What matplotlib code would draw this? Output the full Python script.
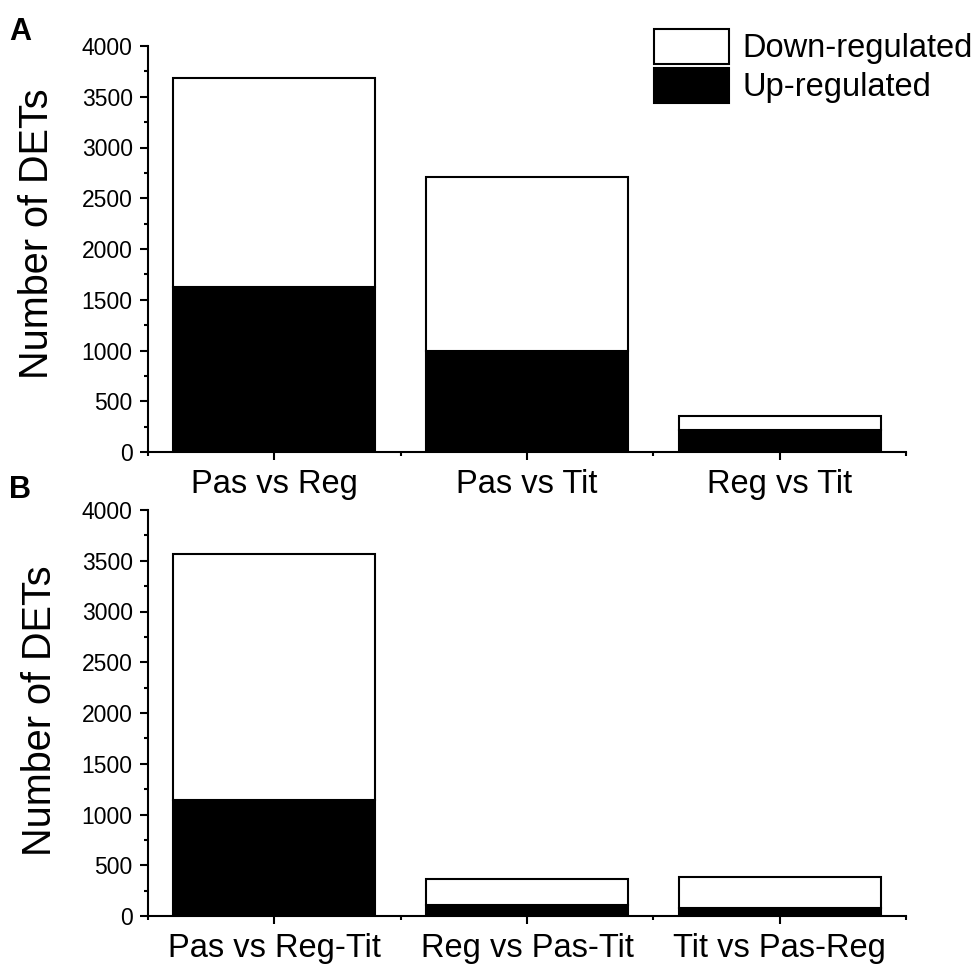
import matplotlib
matplotlib.use("Agg")
import matplotlib.pyplot as plt
from matplotlib.patches import Patch
from matplotlib.ticker import MultipleLocator, FixedLocator

plt.rcParams['font.family'] = ['Liberation Sans', 'DejaVu Sans']

# panel A
cats_a = ["Pas vs Reg", "Pas vs Tit", "Reg vs Tit"]
up_a = [1623, 995, 217]
down_a = [2062, 1711, 138]

# panel B
cats_b = ["Pas vs Reg-Tit", "Reg vs Pas-Tit", "Tit vs Pas-Reg"]
up_b = [1140, 105, 76]
down_b = [2430, 260, 308]

fig = plt.figure(figsize=(9.75, 9.67), dpi=100)
ax_a = fig.add_axes([148/975, 1-452/967, 758/975, 406/967])
ax_b = fig.add_axes([148/975, 1-916/967, 758/975, 406/967])


def draw_panel(ax, cats, up, down):
    x = list(range(len(cats)))
    ax.bar(x, up, width=0.8, color='black', edgecolor='black', linewidth=1.5)
    ax.bar(x, down, width=0.8, bottom=up, color='white', edgecolor='black', linewidth=1.5)
    ax.set_xlim(-0.5, len(cats) - 0.5)
    ax.set_ylim(0, 4000)
    ax.set_xticks(x)
    ax.set_xticklabels(cats, fontsize=23.5)
    ax.xaxis.set_minor_locator(FixedLocator([i + 0.5 for i in range(-1, len(cats))]))
    ax.yaxis.set_major_locator(MultipleLocator(500))
    ax.yaxis.set_minor_locator(MultipleLocator(250))
    ax.tick_params(axis='y', labelsize=16.5)
    ax.tick_params(which='major', direction='out', length=6, width=1.5, pad=5)
    ax.tick_params(which='minor', direction='out', length=3, width=1.5)
    ax.tick_params(axis='x', which='major', pad=6)
    for s in ['top', 'right']:
        ax.spines[s].set_visible(False)
    for s in ['left', 'bottom']:
        ax.spines[s].set_linewidth(1.5)


draw_panel(ax_a, cats_a, up_a, down_a)
draw_panel(ax_b, cats_b, up_b, down_b)

fig.text(37/975, 1-234/967, "Number of DETs", rotation=90, ha='center', va='center', fontsize=28.5)
fig.text(40/975, 1-711/967, "Number of DETs", rotation=90, ha='center', va='center', fontsize=28.5)

fig.text(9/975, 1-17/967, "A", fontsize=22, fontweight='bold', va='top')
fig.text(9/975, 1-475/967, "B", fontsize=22, fontweight='bold', va='top')

handles = [Patch(facecolor='white', edgecolor='black', linewidth=1.5, label='Down-regulated'),
           Patch(facecolor='black', edgecolor='black', linewidth=1.5, label='Up-regulated')]
fig.legend(handles=handles, loc='upper left', bbox_to_anchor=(654/975, 1-29/967),
           frameon=False, fontsize=23.5, handlelength=2.3, handleheight=1.25,
           handletextpad=0.4, labelspacing=0.12, borderpad=0, borderaxespad=0)

fig.savefig("out.png", dpi=100)
